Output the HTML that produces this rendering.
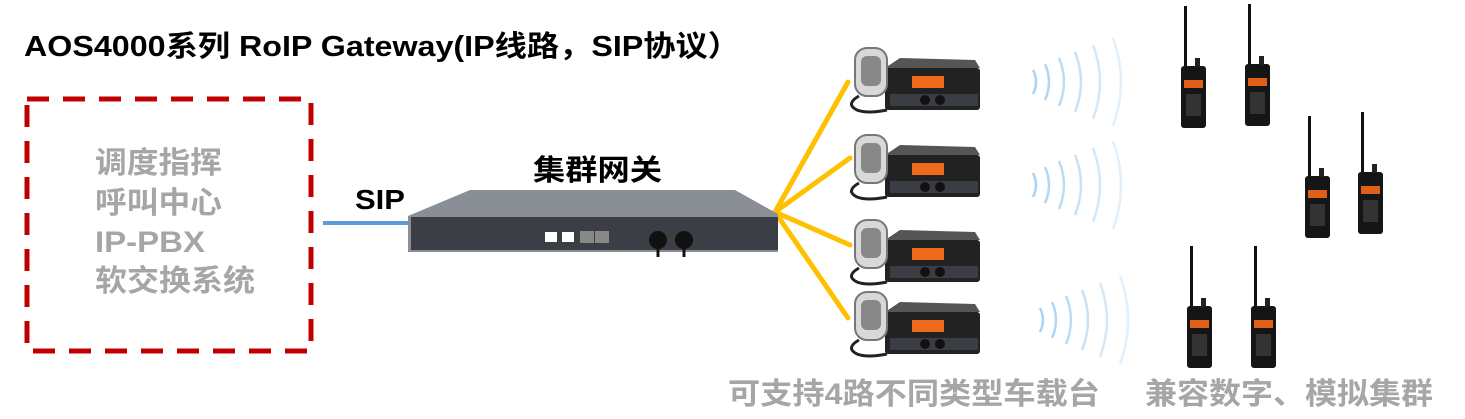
<!DOCTYPE html>
<html><head><meta charset="utf-8"><style>
body{margin:0;background:#fff;}
svg{display:block;font-family:"Liberation Sans","Noto Sans CJK SC",sans-serif;font-weight:bold;}
</style></head><body>
<svg width="1465" height="419" viewBox="0 0 1465 419" xmlns="http://www.w3.org/2000/svg">
<defs>
<g id="radio">
  <rect x="40" y="20" width="95" height="42" rx="3" fill="#222"/>
  <polygon points="40,20 55,10 130,12 135,20" fill="#555"/>
  <rect x="67" y="28" width="32" height="12" fill="#f06a1c"/>
  <rect x="45" y="46" width="88" height="12" fill="#3a3d44"/>
  <circle cx="80" cy="52" r="5" fill="#111"/><circle cx="95" cy="52" r="5" fill="#111"/>
  <rect x="10" y="0" width="32" height="48" rx="12" fill="#d8d8d8" stroke="#777" stroke-width="2"/>
  <rect x="16" y="8" width="20" height="30" rx="6" fill="#888"/>
  <path d="M14 48 q-14 8 -2 14 q10 4 30 0" fill="none" stroke="#222" stroke-width="3"/>
</g>
<g id="wt">
  <rect x="3" y="0" width="3" height="62" fill="#111"/>
  <rect x="0" y="60" width="25" height="62" rx="3" fill="#151515"/>
  <rect x="14" y="52" width="5" height="9" fill="#222"/>
  <rect x="3" y="74" width="19" height="8" fill="#e0601a"/>
  <rect x="5" y="88" width="15" height="22" fill="#333"/>
</g>
<g id="waves" fill="none" stroke="#a9d3f2" stroke-width="2.5">
  <path d="M0 -12 q6 12 0 24"/>
  <path d="M12 -18 q8 18 0 36" opacity=".9"/>
  <path d="M26 -24 q10 24 0 48" opacity=".8"/>
  <path d="M42 -30 q12 30 0 60" opacity=".65"/>
  <path d="M60 -37 q14 37 0 74" opacity=".5"/>
  <path d="M80 -44 q16 44 0 88" opacity=".35"/>
</g>
</defs>
<text x="24" y="56" font-size="29" fill="#000" textLength="716" lengthAdjust="spacingAndGlyphs">AOS4000系列 RoIP Gateway(IP线路，SIP协议）</text>
<rect x="27" y="99" width="284" height="252" fill="none" stroke="#c00000" stroke-width="5" stroke-dasharray="22,14"/>
<g font-size="30" fill="#a6a6a6">
<text x="95" y="173" textLength="127" lengthAdjust="spacingAndGlyphs">调度指挥</text>
<text x="95" y="213" textLength="127" lengthAdjust="spacingAndGlyphs">呼叫中心</text>
<text x="95" y="252" textLength="110" lengthAdjust="spacingAndGlyphs">IP-PBX</text>
<text x="95" y="291" textLength="160" lengthAdjust="spacingAndGlyphs">软交换系统</text>
</g>
<line x1="323" y1="223" x2="410" y2="223" stroke="#5b9bd5" stroke-width="4"/>
<text x="355" y="209" font-size="28" fill="#000" textLength="50" lengthAdjust="spacingAndGlyphs">SIP</text>
<text x="533" y="180" font-size="29" fill="#000" textLength="129" lengthAdjust="spacingAndGlyphs">集群网关</text>
<g stroke="#ffc000" stroke-width="5" stroke-linecap="round">
<line x1="775" y1="212" x2="848" y2="82"/>
<line x1="775" y1="212" x2="850" y2="158"/>
<line x1="775" y1="212" x2="850" y2="245"/>
<line x1="775" y1="212" x2="848" y2="318"/>
</g>
<polygon points="408,216 470,190 735,190 778,214 778,252 408,252" fill="#8a8f96"/>
<rect x="411" y="217" width="367" height="33" fill="#3b3f45"/>
<rect x="545" y="232" width="12" height="10" fill="#fff"/><rect x="562" y="232" width="12" height="10" fill="#fff"/>
<rect x="580" y="231" width="14" height="12" fill="#888"/><rect x="595" y="231" width="14" height="12" fill="#888"/>
<circle cx="658" cy="240" r="9" fill="#111"/><circle cx="684" cy="240" r="9" fill="#111"/>
<line x1="658" y1="249" x2="658" y2="257" stroke="#111" stroke-width="3"/>
<line x1="684" y1="249" x2="684" y2="257" stroke="#111" stroke-width="3"/>
<use href="#radio" transform="translate(845,48)"/>
<use href="#radio" transform="translate(845,135)"/>
<use href="#radio" transform="translate(845,220)"/>
<use href="#radio" transform="translate(845,292)"/>
<use href="#waves" transform="translate(1033,82)"/>
<use href="#waves" transform="translate(1033,185)"/>
<use href="#waves" transform="translate(1040,320)"/>
<use href="#wt" transform="translate(1181,6)"/>
<use href="#wt" transform="translate(1245,4)"/>
<use href="#wt" transform="translate(1305,116)"/>
<use href="#wt" transform="translate(1358,112)"/>
<use href="#wt" transform="translate(1187,246)"/>
<use href="#wt" transform="translate(1251,246)"/>
<g font-size="30" fill="#a6a6a6">
<text x="728" y="404" textLength="372" lengthAdjust="spacingAndGlyphs">可支持4路不同类型车载台</text>
<text x="1145" y="404" textLength="288" lengthAdjust="spacingAndGlyphs">兼容数字、模拟集群</text>
</g>
</svg>
</body></html>
